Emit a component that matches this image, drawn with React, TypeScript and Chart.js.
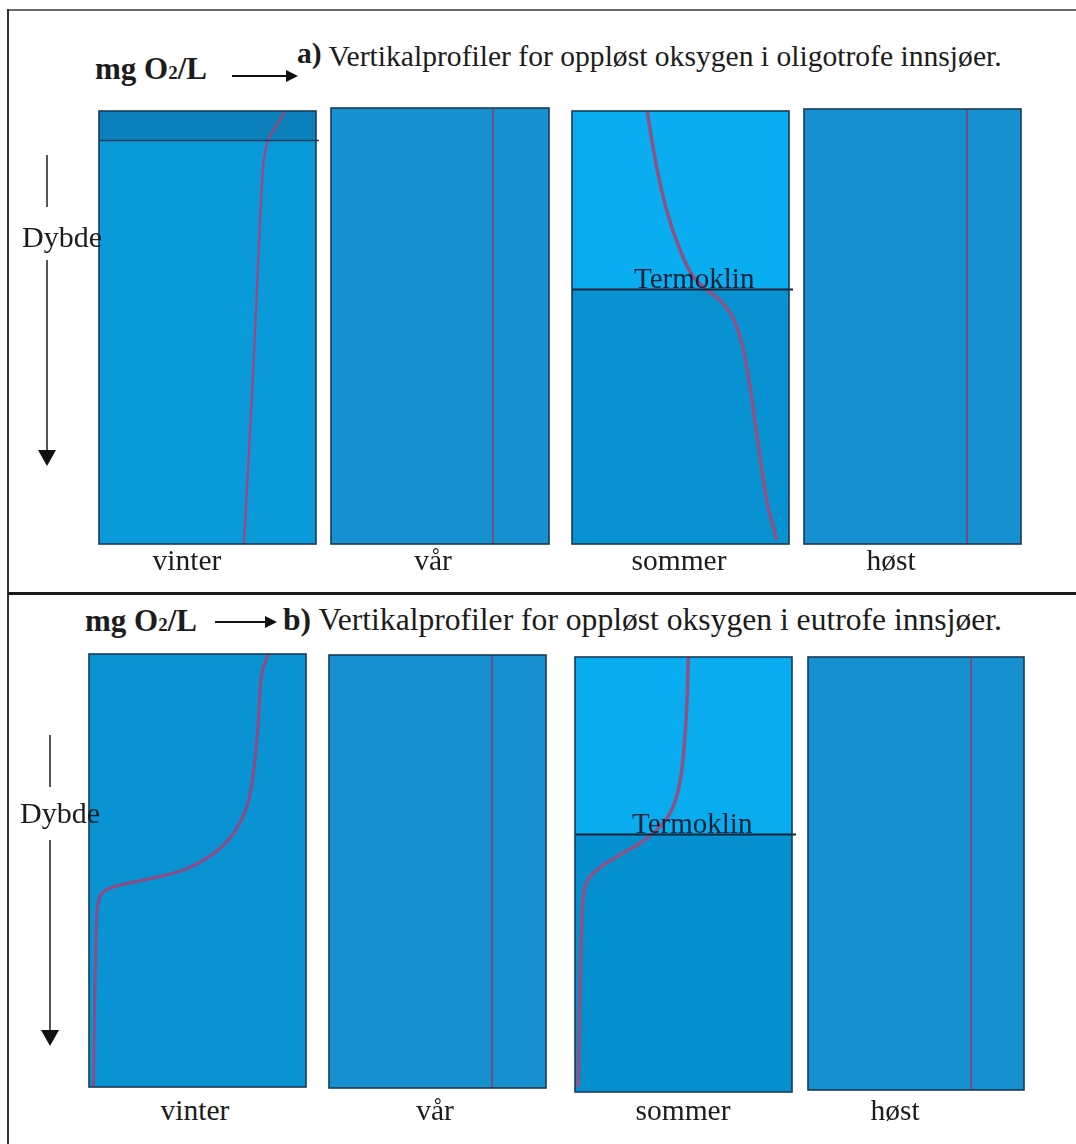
import React, { useEffect, useRef } from "react";
import { Chart, registerables } from "chart.js";

Chart.register(...registerables);

// ---------- data (depth: 0 = surface … 100 = bottom, O2: relative 0–10 scale) ----------
const seasons = ["vinter", "vår", "sommer", "høst"];

const oligoVinterDepth = [0, 3.2, 6.7, 11.3, 20.6, 51, 74, 100];
const oligoVinterO2 = [8.57, 8.2, 7.8, 7.6, 7.47, 7.19, 6.96, 6.68];
const oligoVarDepth = [0, 100];
const oligoVarO2 = [7.43, 7.43];
const oligoSommerDepth = [0, 12.9, 22.9, 32.1, 38.3, 41.3, 44.4, 49.8, 59, 74.4, 89.8, 99];
const oligoSommerO2 = [3.46, 3.9, 4.36, 4.98, 5.59, 6.21, 6.97, 7.59, 8.05, 8.51, 8.97, 9.43];
const oligoHostDepth = [0, 100];
const oligoHostO2 = [7.51, 7.51];

const eutroVinterDepth = [0, 4.5, 16, 27.6, 35.3, 41.5, 46.1, 49.9, 52.2, 54.1, 56, 62.2, 100];
const eutroVinterO2 = [8.26, 7.96, 7.8, 7.57, 7.27, 6.65, 5.73, 4.35, 2.5, 0.97, 0.51, 0.35, 0.2];
const eutroVarDepth = [0, 100];
const eutroVarO2 = [7.51, 7.51];
const eutroSommerDepth = [0, 11.4, 22.9, 30.6, 35.9, 39.8, 42.8, 45.9, 49.7, 52.8, 61.2, 98.8];
const eutroSommerO2 = [5.22, 5.15, 4.99, 4.76, 4.38, 3.76, 3.0, 1.92, 0.84, 0.46, 0.31, 0.15];
const eutroHostDepth = [0, 100];
const eutroHostO2 = [7.55, 7.55];

const iceDepth = 6.7; // oligotrophic winter ice layer
const thermoclineDepth = [41.1, 40.7]; // oligotrophic, eutrophic summer

// ---------- layout / style ----------
const PAD = 6;
const SERIF = "'Liberation Serif', 'Times New Roman', serif";

type Spec = {
  x: number; y: number; w: number; h: number;
  depth: number[]; o2: number[];
  lw: number; lc: string;
  base: string; top?: string; split?: number; splitColor?: string; splitW?: number; splitRight?: number;
};

const panels: Spec[] = [
  { x: 99, y: 111, w: 217, h: 433, depth: oligoVinterDepth, o2: oligoVinterO2, lw: 2.2, lc: "#a2457a",
    base: "#0a9ad9", top: "#0c80bb", split: iceDepth, splitColor: "#1b3d5c", splitW: 1.5, splitRight: 3 },
  { x: 331, y: 108, w: 218, h: 436, depth: oligoVarDepth, o2: oligoVarO2, lw: 2, lc: "#6e4f86", base: "#1790d0" },
  { x: 572, y: 111, w: 217, h: 433, depth: oligoSommerDepth, o2: oligoSommerO2, lw: 3.5, lc: "#8e5384",
    base: "#0892d2", top: "#0aaef0", split: thermoclineDepth[0], splitColor: "#0e2236", splitW: 2, splitRight: 4 },
  { x: 804, y: 109, w: 217, h: 435, depth: oligoHostDepth, o2: oligoHostO2, lw: 2, lc: "#6e4f86", base: "#1790d0" },
  { x: 89, y: 654, w: 217, h: 433, depth: eutroVinterDepth, o2: eutroVinterO2, lw: 3.2, lc: "#8a4d86", base: "#0993d3" },
  { x: 329, y: 655, w: 217, h: 433, depth: eutroVarDepth, o2: eutroVarO2, lw: 2, lc: "#6e4f86", base: "#1790d0" },
  { x: 575, y: 657, w: 217, h: 435, depth: eutroSommerDepth, o2: eutroSommerO2, lw: 3.5, lc: "#8e5384",
    base: "#0590d0", top: "#0aacf0", split: thermoclineDepth[1], splitColor: "#0e2236", splitW: 2, splitRight: 4 },
  { x: 808, y: 657, w: 216, h: 433, depth: eutroHostDepth, o2: eutroHostO2, lw: 2, lc: "#6e4f86", base: "#1790d0" },
];

function Panel({ spec }: { spec: Spec }) {
  const ref = useRef<HTMLCanvasElement>(null);
  useEffect(() => {
    const bg = {
      id: "panelBg",
      beforeDraw(chart: any) {
        const { ctx, chartArea: a, scales } = chart;
        ctx.save();
        ctx.fillStyle = spec.base;
        ctx.fillRect(a.left, a.top, a.right - a.left, a.bottom - a.top);
        if (spec.split !== undefined && spec.top) {
          const sy = scales.y.getPixelForValue(spec.split);
          ctx.fillStyle = spec.top;
          ctx.fillRect(a.left, a.top, a.right - a.left, sy - a.top);
        }
        ctx.restore();
      },
      afterDatasetsDraw(chart: any) {
        const { ctx, chartArea: a, scales } = chart;
        ctx.save();
        if (spec.split !== undefined) {
          const sy = Math.round(scales.y.getPixelForValue(spec.split)) + 0.5;
          ctx.strokeStyle = spec.splitColor;
          ctx.lineWidth = spec.splitW;
          ctx.beginPath();
          ctx.moveTo(a.left, sy);
          ctx.lineTo(a.right + (spec.splitRight || 0), sy);
          ctx.stroke();
        }
        ctx.strokeStyle = "#1a3a56";
        ctx.lineWidth = 1.6;
        ctx.strokeRect(a.left, a.top, a.right - a.left, a.bottom - a.top);
        ctx.restore();
      },
    };
    const chart = new Chart(ref.current as HTMLCanvasElement, {
      type: "line",
      data: {
        datasets: [
          {
            data: spec.depth.map((d, i) => ({ x: spec.o2[i], y: d })),
            borderColor: spec.lc,
            borderWidth: spec.lw,
            pointRadius: 0,
            tension: 0.4,
            fill: false,
            clip: 4,
          } as any,
        ],
      },
      options: {
        animation: false,
        responsive: false,
        maintainAspectRatio: false,
        events: [],
        layout: { padding: PAD },
        plugins: { legend: { display: false }, tooltip: { enabled: false } },
        scales: {
          x: { type: "linear", min: 0, max: 10, display: false },
          y: { type: "linear", min: 0, max: 100, reverse: true, display: false },
        },
      },
      plugins: [bg],
    });
    return () => chart.destroy();
  }, [spec]);
  return (
    <canvas
      ref={ref}
      width={spec.w + PAD * 2}
      height={spec.h + PAD * 2}
      style={{ position: "absolute", left: spec.x - PAD, top: spec.y - PAD }}
    />
  );
}

const txt = (size: number, extra: React.CSSProperties = {}): React.CSSProperties => ({
  position: "absolute",
  fontFamily: SERIF,
  fontSize: size,
  lineHeight: 1,
  color: "#1c1c1c",
  whiteSpace: "nowrap",
  ...extra,
});

function HArrow({ x1, x2, y }: { x1: number; x2: number; y: number }) {
  return (
    <>
      <div style={{ position: "absolute", left: x1, top: y - 1, width: x2 - x1 - 10, height: 2, background: "#111" }} />
      <div style={{ position: "absolute", left: x2 - 12, top: y - 6, width: 0, height: 0,
        borderTop: "6px solid transparent", borderBottom: "6px solid transparent", borderLeft: "12px solid #111" }} />
    </>
  );
}

function DepthArrow({ x, y1, y2, tx, ty, y3, y4 }: { x: number; y1: number; y2: number; tx: number; ty: number; y3: number; y4: number }) {
  return (
    <>
      <div style={{ position: "absolute", left: x - 1, top: y1, width: 2, height: y2 - y1, background: "#555" }} />
      <div style={txt(30, { left: tx, top: ty })}>Dybde</div>
      <div style={{ position: "absolute", left: x - 1, top: y3, width: 2, height: y4 - y3 - 14, background: "#555" }} />
      <div style={{ position: "absolute", left: x - 9, top: y4 - 16, width: 0, height: 0,
        borderLeft: "9px solid transparent", borderRight: "9px solid transparent", borderTop: "16px solid #111" }} />
    </>
  );
}

const labelCentersA = [187, 433, 679, 891];
const labelCentersB = [195, 435, 683, 895];

export default function App() {
  return (
    <div style={{ position: "absolute", left: 0, top: 0, width: 1076, height: 1144, background: "#fff", overflow: "hidden" }}>
      {/* frame */}
      <div style={{ position: "absolute", left: 8, top: 9, width: 1068, height: 2, background: "#6a6a6a" }} />
      <div style={{ position: "absolute", left: 7, top: 9, width: 2, height: 1135, background: "#333" }} />
      <div style={{ position: "absolute", left: 8, top: 592, width: 1068, height: 3, background: "#1a1a1a" }} />

      {panels.map((p, i) => (
        <Panel key={i} spec={p} />
      ))}

      {/* row a headers */}
      <div style={txt(31, { left: 95, top: 53, fontWeight: "bold" })}>
        mg O<span style={{ fontSize: 19 }}>2</span>/L
      </div>
      <HArrow x1={232} x2={298} y={76} />
      <div style={txt(29.6, { left: 297, top: 42 })}>
        <b style={{ position: "relative", top: -3 }}>a)</b> Vertikalprofiler for oppløst oksygen i oligotrofe innsjøer.
      </div>

      {/* row b headers */}
      <div style={txt(31, { left: 85, top: 605, fontWeight: "bold" })}>
        mg O<span style={{ fontSize: 19 }}>2</span>/L
      </div>
      <HArrow x1={215} x2={277} y={622} />
      <div style={txt(31.6, { left: 283, top: 604 })}>
        <b>b)</b> Vertikalprofiler for oppløst oksygen i eutrofe innsjøer.
      </div>

      <DepthArrow x={47} y1={155} y2={207} tx={22} ty={222} y3={260} y4={466} />
      <DepthArrow x={50} y1={735} y2={787} tx={20} ty={798} y3={840} y4={1046} />

      {/* thermocline labels */}
      <div style={txt(29, { left: 634, top: 264, color: "#0e2236" })}>Termoklin</div>
      <div style={txt(29, { left: 632, top: 809, color: "#0e2236" })}>Termoklin</div>

      {seasons.map((s, i) => (
        <div key={"a" + i} style={txt(29.5, { left: labelCentersA[i] - 100, width: 200, textAlign: "center", top: 546 })}>{s}</div>
      ))}
      {seasons.map((s, i) => (
        <div key={"b" + i} style={txt(29.5, { left: labelCentersB[i] - 100, width: 200, textAlign: "center", top: 1096 })}>{s}</div>
      ))}
    </div>
  );
}
